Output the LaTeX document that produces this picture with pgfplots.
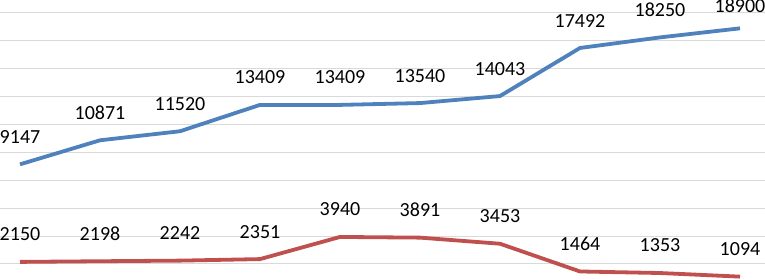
\documentclass[border=0pt]{standalone}
\usepackage{pgfplots}
\pgfplotsset{compat=1.18}
\usepackage{fontspec}
\setmainfont{Carlito}
\definecolor{xlblue}{HTML}{4F81BD}
\definecolor{xlred}{HTML}{C0504D}
\definecolor{gridgray}{HTML}{D9D9D9}
\begin{document}
\begin{tikzpicture}
\begin{axis}[
  scale only axis,
  width=765bp, height=279bp,
  xmin=-0.25, xmax=9.3125,
  ymin=924, ymax=20932,
  axis line style={draw=none},
  tick style={draw=none},
  ytick={2000,4000,...,20000},
  xtick=\empty,
  yticklabels={},
  ymajorgrids=true,
  grid style={gridgray, line width=1bp},
  clip=false,
  point meta=explicit symbolic,
  nodes near coords,
  every node near coord/.append style={font=\fontsize{20bp}{24bp}\selectfont, text=black, inner sep=0pt, anchor=south, yshift=19bp},
]
\addplot[xlblue, line width=3.8bp] coordinates {
(0,9147) [9147] (1,10871) [10871] (2,11520) [11520] (3,13409) [13409] (4,13409) [13409]
(5,13540) [13540] (6,14043) [14043] (7,17492) [17492] (8,18250) [18250] (9,18900) []};
\addplot[draw=none, nodes near coords, every node near coord/.append style={yshift=-4bp}] coordinates {(9,18900) [18900]};
\addplot[xlred, line width=3.8bp] coordinates {
(0,2150) [2150] (1,2198) [2198] (2,2242) [2242] (3,2351) [2351] (4,3940) [3940]
(5,3891) [3891] (6,3453) [3453] (7,1464) [1464] (8,1353) [1353] (9,1094) [1094]};
\end{axis}
\pgfresetboundingbox
\useasboundingbox (current axis.south west) rectangle (current axis.north east);
\end{tikzpicture}
\end{document}
